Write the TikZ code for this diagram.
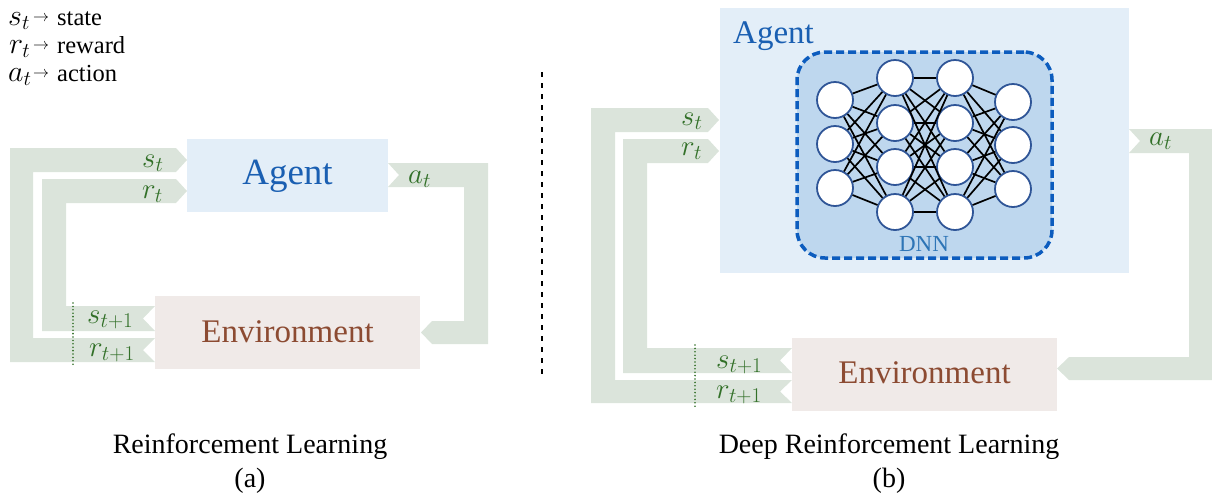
\RequirePackage{fix-cm}
\documentclass[tikz,border=0pt]{standalone}
\usepackage{fontspec}
\setmainfont{Liberation Serif}
\DeclareMathSizes{29}{29}{21}{16}
\DeclareMathSizes{30}{30}{21}{16}
\definecolor{bandc}{RGB}{219,228,219}
\definecolor{lblc}{RGB}{50,112,40}
\definecolor{agentc}{RGB}{227,238,248}
\definecolor{agenttxt}{RGB}{26,95,178}
\definecolor{envc}{RGB}{240,234,232}
\definecolor{envtxt}{RGB}{140,75,50}
\definecolor{dnnfill}{RGB}{190,215,238}
\definecolor{dnndash}{RGB}{12,92,190}
\definecolor{dnntxt}{RGB}{46,117,182}
\definecolor{neuronc}{RGB}{47,85,151}
\begin{document}
\begin{tikzpicture}[x=1pt,y=-1pt,
  band/.style={fill=bandc,draw=none},
  lbl/.style={text=lblc,font=\fontsize{29}{29}\selectfont,inner sep=0pt,anchor=base west},
  agentbox/.style={fill=agentc,draw=none,inner sep=0pt},
  envbox/.style={fill=envc,draw=none,inner sep=0pt},
  agenttext/.style={text=agenttxt,inner sep=0pt},
  envtext/.style={text=envtxt,inner sep=0pt,anchor=base,font=\fontsize{33}{33}\selectfont},
  neuron/.style={circle,draw=neuronc,line width=1.8pt,fill=white,minimum size=36pt,inner sep=0pt},
  synapse/.style={black,line width=1.7pt},
  titletext/.style={inner sep=0pt,anchor=base,font=\fontsize{28}{28}\selectfont},
  legtext/.style={inner sep=0pt,anchor=base west,font=\fontsize{24.5}{24.5}\selectfont},
  legmath/.style={inner sep=0pt,anchor=base west,font=\fontsize{30}{30}\selectfont},
  legarrow/.style={inner sep=0pt,font=\fontsize{16}{16}\selectfont},
  dotline/.style={lblc,line width=1.8pt,line cap=round,dash pattern=on 0pt off 3.4pt},
]
\useasboundingbox (0,0) rectangle (1212,499);

% ---------- legend ----------
\node[legmath] (ls) at (8,25) {$s_t$};
\node[legarrow] (lsa) at (41,19) {$\rightarrow$};
\node[legtext] (lst) at (57,25) {state};
\node[legmath] (lr) at (9,53) {$r_t$};
\node[legarrow] (lra) at (41,47) {$\rightarrow$};
\node[legtext] (lrt) at (57,53) {reward};
\node[legmath] (la) at (8,81) {$a_t$};
\node[legarrow] (laa) at (41,75) {$\rightarrow$};
\node[legtext] (lat) at (57,81) {action};

% ---------- (a) bands ----------
\fill[band] (187,160) -- (176,172) -- (33,172) -- (33,338) -- (155,338) -- (143,350) -- (155,362) -- (10,362) -- (10,148) -- (176,148) -- cycle;
\fill[band] (187,191) -- (176,203) -- (66,203) -- (66,306) -- (155,306) -- (143,318.5) -- (155,331) -- (42,331) -- (42,179) -- (176,179) -- cycle;
\fill[band] (388,163) -- (399,175) -- (388,187) -- (464,187) -- (464,321) -- (432,321) -- (421,332.5) -- (432,344) -- (488,344) -- (488,163) -- cycle;

% ---------- (a) boxes ----------
\node[agentbox,minimum width=201pt,minimum height=73pt] (agentA) at (287.5,175.5) {};
\node[agenttext,anchor=base,font=\fontsize{37}{37}\selectfont] (agentAt) at (287.5,184) {Agent};
\node[envbox,minimum width=265pt,minimum height=73pt] (envA) at (287.5,332.5) {};
\node[envtext] (envAt) at (287.5,342) {Environment};

% labels (a)
\node[lbl] (sA) at (142,167) {$s_t$};
\node[lbl] (rA) at (142,198) {$r_t$};
\node[lbl] (aA) at (408,183) {$a_t$};
\node[lbl] (s1A) at (87,323) {$s_{t+1}$};
\node[lbl] (r1A) at (89,356) {$r_{t+1}$};
\coordinate (dAt) at (73,303);
\coordinate (dAb) at (73,366);
\draw[dotline] (dAt) -- (dAb);

% ---------- separator ----------
\coordinate (sepT) at (542,72);
\coordinate (sepB) at (542,376);
\draw[black,line width=2.2pt,dash pattern=on 5pt off 6pt] (sepT) -- (sepB);

% ---------- (b) bands ----------
\fill[band] (719,120) -- (708,132) -- (615,132) -- (615,380) -- (792,380) -- (780,391.5) -- (792,403) -- (591,403) -- (591,108) -- (708,108) -- cycle;
\fill[band] (719,151) -- (708,163) -- (647,163) -- (647,348) -- (792,348) -- (780,360.5) -- (792,373) -- (623,373) -- (623,139) -- (708,139) -- cycle;
\fill[band] (1129,129) -- (1140,141) -- (1129,153) -- (1189,153) -- (1189,357) -- (1069,357) -- (1057,368.5) -- (1069,380) -- (1212,380) -- (1212,129) -- cycle;

% ---------- (b) boxes ----------
\node[agentbox,minimum width=409pt,minimum height=265pt] (agentB) at (924.5,140.5) {};
\node[agenttext,anchor=base west,font=\fontsize{33}{33}\selectfont] (agentBt) at (733,43) {Agent};
\node[envbox,minimum width=265pt,minimum height=73pt] (envB) at (924.5,374.5) {};
\node[envtext] (envBt) at (924.5,383) {Environment};

% DNN
\node[fill=dnnfill,draw=dnndash,line width=3.5pt,dash pattern=on 8pt off 4pt,rounded corners=28pt,minimum width=255pt,minimum height=206pt,inner sep=0pt] (dnn) at (924.5,155) {};
\node[text=dnntxt,inner sep=0pt,anchor=base,font=\fontsize{23}{23}\selectfont] (dnnt) at (924,251) {DNN};

\foreach \y [count=\i] in {100,144,188} \node[neuron] (p\i) at (835,\y) {};
\foreach \y [count=\i] in {78,123,167,212} \node[neuron] (q\i) at (895,\y) {};
\foreach \y [count=\i] in {78,123,167,212} \node[neuron] (u\i) at (955,\y) {};
\foreach \y [count=\i] in {102,145,189} \node[neuron] (v\i) at (1013,\y) {};

\foreach \i in {1,2,3} \foreach \j in {1,2,3,4} \draw[synapse] (p\i) -- (q\j);
\foreach \i in {1,2,3,4} \foreach \j in {1,2,3,4} \draw[synapse] (q\i) -- (u\j);
\foreach \i in {1,2,3,4} \foreach \j in {1,2,3} \draw[synapse] (u\i) -- (v\j);

% labels (b)
\node[lbl] (sB) at (681,125) {$s_t$};
\node[lbl] (rB) at (681,155) {$r_t$};
\node[lbl] (aB) at (1149,145) {$a_t$};
\node[lbl] (s1B) at (716,368) {$s_{t+1}$};
\node[lbl] (r1B) at (716,398) {$r_{t+1}$};
\coordinate (dBt) at (695,345);
\coordinate (dBb) at (695,408);
\draw[dotline] (dBt) -- (dBb);

% ---------- titles ----------
\node[titletext] (tA) at (250,453) {Reinforcement Learning};
\node[titletext] (tAl) at (250,487) {(a)};
\node[titletext] (tB) at (889,453) {Deep Reinforcement Learning};
\node[titletext] (tBl) at (889,487) {(b)};
\end{tikzpicture}
\end{document}
